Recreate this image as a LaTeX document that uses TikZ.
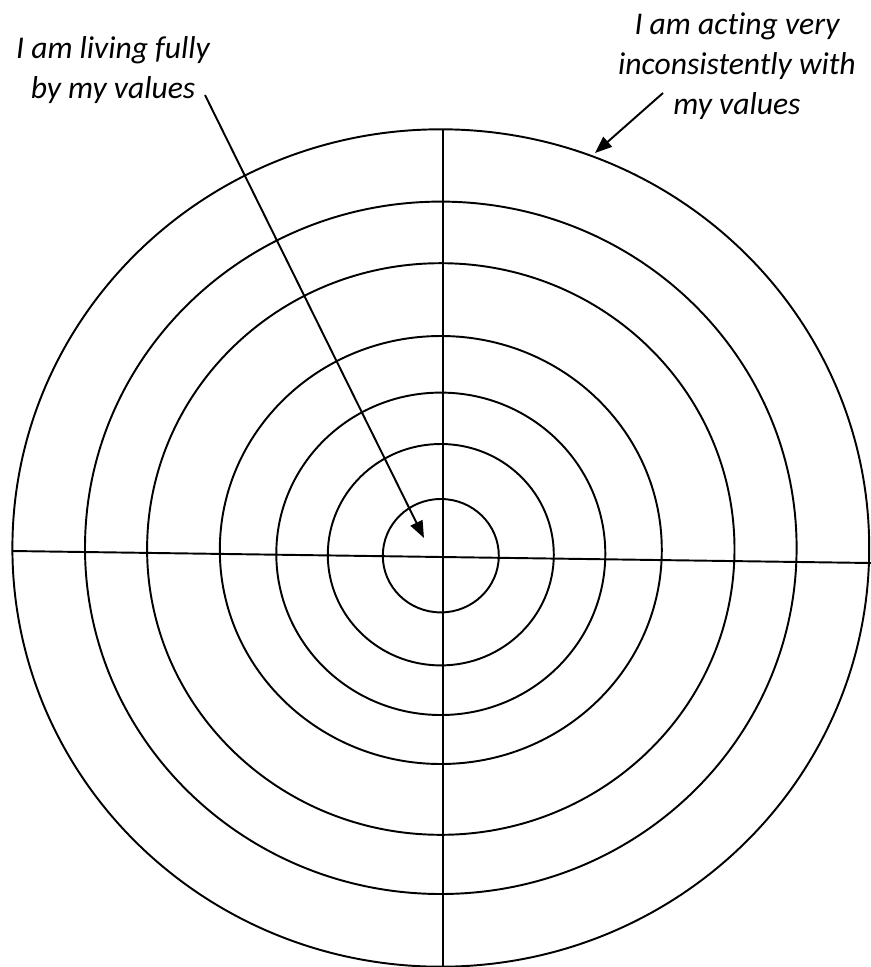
\documentclass[tikz,border=0pt]{standalone}
\usepackage{fontspec}
\setmainfont{Carlito}[Ligatures=NoCommon]
\usepackage{tikz}
\usetikzlibrary{arrows.meta}

\tikzset{
  ring/.style={line width=1.1pt},
  axis/.style={line width=1.1pt},
  note/.style={align=center, font=\fontsize{18}{22.7}\selectfont\itshape, inner sep=0pt},
  pointer/.style={line width=1.1pt, -{Triangle[length=0.34cm, width=0.26cm]}}
}

\begin{document}
\begin{tikzpicture}[x=0.02cm, y=-0.02cm]
\useasboundingbox (0,0) rectangle (871,967);
% rings, inner to outer
\foreach \cy/\rx/\ry in {555.7/58/56.7, 554.7/113/110.7, 553.8/164.5/161.2, 550/221/214,
                         549/293.7/285.8, 547.8/355.8/346.2, 548/428.4/418.7}
  \draw[ring] (440.8,\cy) ellipse [x radius=\rx, y radius=\ry];
% axes
\coordinate (w) at (12,551);
\coordinate (e) at (871,563);
\coordinate (n) at (443,129);
\coordinate (s) at (443,967);
\draw[axis] (w) -- (e);
\draw[axis] (n) -- (s);

\node[note] (full) at (113,70) {I am living fully\\by my values};
\node[note] (incons) at (737,66) {I am acting very\\inconsistently with\\my values};

\coordinate (fullend) at (205,95);
\coordinate (center) at (424,538);
\coordinate (inconsend) at (663,93);
\coordinate (rim) at (595,153);
\draw[pointer] (fullend) -- (center);
\draw[pointer] (inconsend) -- (rim);
\end{tikzpicture}
\end{document}
